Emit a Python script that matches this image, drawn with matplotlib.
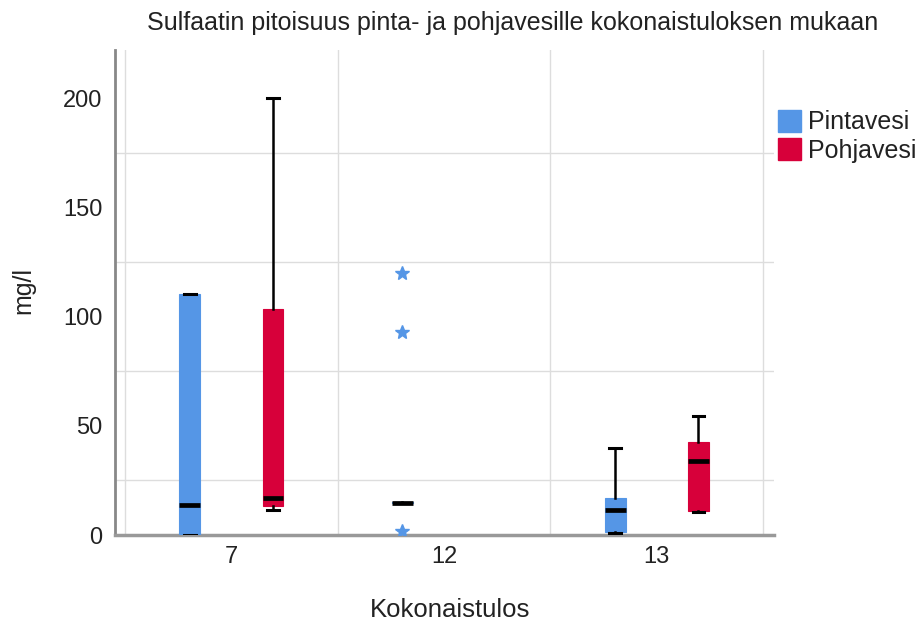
import matplotlib
matplotlib.use("Agg")
import matplotlib.pyplot as plt
from matplotlib.patches import Patch

plt.rcParams['font.family'] = ['Liberation Sans', 'DejaVu Sans']

# ---- data ----
categories = ['7', '12', '13']
series_names = ['Pintavesi', 'Pohjavesi']
colors = ['#5596E6', '#D7003A']

# Pintavesi (surface water)
pinta_whislo = [0.0, 14.8, 0.8]
pinta_q1 = [0.0, 14.5, 1.2]
pinta_med = [13.9, 14.8, 11.4]
pinta_q3 = [110.3, 15.1, 16.8]
pinta_whishi = [110.3, 14.8, 40.0]
pinta_fliers = [[], [120.0, 93.0, 2.0], []]

# Pohjavesi (groundwater) - no data for category 12
pohja_present = [True, False, True]
pohja_whislo = [11.4, None, 10.4]
pohja_q1 = [13.4, None, 11.0]
pohja_med = [17.1, None, 34.0]
pohja_q3 = [103.3, None, 42.7]
pohja_whishi = [200.0, None, 54.5]
pohja_fliers = [[], [], []]

title = 'Sulfaatin pitoisuus pinta- ja pohjavesille kokonaistuloksen mukaan'
xlabel = 'Kokonaistulos'
ylabel = 'mg/l'
ytick_vals = [0, 50, 100, 150, 200]

# ---- figure ----
fig = plt.figure(figsize=(9.16, 6.22), dpi=100)
ax = fig.add_axes([115/916, 87/622, (774-115)/916, (535-50)/622])

offset = 0.196
box_w = 0.098
cap_w = 0.056

def make_stats(wl, q1, med, q3, wh, fl):
    return dict(whislo=wl, q1=q1, med=med, q3=q3, whishi=wh, fliers=fl)

series = [
    (pinta_whislo, pinta_q1, pinta_med, pinta_q3, pinta_whishi, pinta_fliers, [True]*3),
    (pohja_whislo, pohja_q1, pohja_med, pohja_q3, pohja_whishi, pohja_fliers, pohja_present),
]

for s_idx, (wl, q1, med, q3, wh, fl, present) in enumerate(series):
    stats, pos = [], []
    for i in range(len(categories)):
        if not present[i]:
            continue
        stats.append(make_stats(wl[i], q1[i], med[i], q3[i], wh[i], fl[i]))
        pos.append(i + (-offset if s_idx == 0 else offset))
    c = colors[s_idx]
    ax.bxp(stats, positions=pos, widths=box_w, capwidths=cap_w,
           patch_artist=True, manage_ticks=False, zorder=3,
           boxprops=dict(facecolor=c, edgecolor=c, linewidth=0.8),
           medianprops=dict(color='black', linewidth=3.4, solid_capstyle='butt'),
           whiskerprops=dict(color='black', linewidth=1.8),
           capprops=dict(color='black', linewidth=2.2),
           flierprops=dict(marker='*', markersize=10, markerfacecolor=c,
                           markeredgecolor=c, linestyle='none'))

ax.set_xlim(-0.547, 2.551)
ax.set_ylim(0, 222)

ax.set_xticks(range(len(categories)))
ax.set_xticklabels(categories)
ax.set_xticks([-0.5, 0.5, 1.5, 2.5], minor=True)
ax.set_yticks(ytick_vals)
ax.set_yticks([25, 75, 125, 175], minor=True)
ax.grid(which='minor', color='#DDDDDD', linewidth=1.0, zorder=0)
ax.grid(which='major', visible=False)
ax.set_axisbelow(True)
ax.tick_params(which='both', length=0)
ax.tick_params(axis='x', labelsize=17, pad=8, colors='#222222')
ax.tick_params(axis='y', labelsize=17, pad=9, colors='#222222')

for sp in ['top', 'right']:
    ax.spines[sp].set_visible(False)
ax.spines['left'].set_color('#888888')
ax.spines['left'].set_linewidth(2.0)
ax.spines['bottom'].set_color('#999999')
ax.spines['bottom'].set_linewidth(2.5)

fig.text(513/916, 1 - 23/622, title, ha='center', va='center', fontsize=18, color='#222222')
fig.text(450/916, 1 - 610/622, xlabel, ha='center', va='center', fontsize=18.5, color='#222222')
fig.text(23/916, 1 - 290/622, ylabel, ha='center', va='center', fontsize=18,
         rotation=90, color='#222222')

handles = [Patch(facecolor=colors[i], edgecolor=colors[i], label=series_names[i])
           for i in range(len(series_names))]
fig.legend(handles=handles, loc='upper left', bbox_to_anchor=(778/916, 1 - 110/622),
           frameon=False, fontsize=18, handlelength=0.92, handleheight=0.95,
           handletextpad=0.28, labelspacing=0.16, borderpad=0, borderaxespad=0,
           labelcolor='#222222')

fig.savefig('out.png', dpi=100)
